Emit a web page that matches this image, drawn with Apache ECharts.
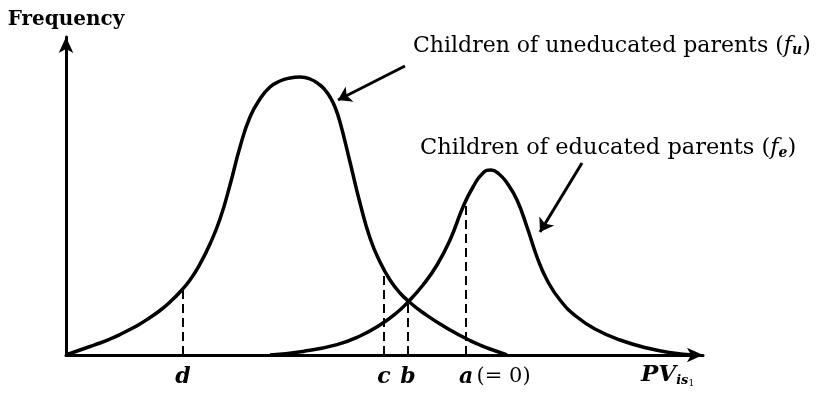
<!DOCTYPE html>
<html><head><meta charset="utf-8">
<script src="https://cdn.jsdelivr.net/npm/echarts@6/dist/echarts.min.js"></script>
<style>html,body{margin:0;padding:0;background:#fff}#c{width:832px;height:395px}</style>
</head><body><div id="c"></div>
<script>
// Curve of children of uneducated parents (f_u)
const uneducatedX = [-20, -19.3, -18.8, -18.3, -17.8, -17.3, -16.8, -16.3, -15.8, -15.3, -14.8, -14.3, -13.8, -13.3, -12.8, -12.3, -11.8, -11.3, -10.8, -10.3, -9.8, -9.3, -8.8, -8.3, -7.8, -7.3, -7.05, -6.8, -6.55, -6.3, -5.8, -5.3, -4.8, -4.3, -3.8, -3.3, -2.8, -2.3, -1.8, -1.3, -0.8, -0.3, 0.2, 0.7, 1.2, 1.7, 2.05];
const uneducatedY = [0, 0.5, 0.85, 1.2, 1.6, 2.05, 2.55, 3.1, 3.75, 4.45, 5.3, 6.3, 7.5, 9.1, 11.1, 13.6, 17.0, 20.8, 23.8, 25.6, 26.8, 27.4, 27.7, 27.8, 27.6, 27.0, 26.5, 25.8, 24.8, 23.3, 19.3, 15.2, 11.7, 9.3, 7.5, 6.2, 5.25, 4.45, 3.75, 3.1, 2.5, 1.95, 1.45, 1.0, 0.6, 0.25, 0];
// Curve of children of educated parents (f_e)
const educatedX = [-9.8, -8.15, -6.45, -5.3, -4.3, -3.45, -2.9, -2.15, -1.45, -0.8, -0.15, 0.35, 0.85, 1.25, 1.65, 2.05, 2.55, 3.05, 3.55, 4.05, 4.7, 5.55, 6.55, 7.7, 9.05, 10.35, 11.35];
const educatedY = [0, 0.36, 1.04, 1.9, 3.0, 4.25, 5.3, 7.0, 9.0, 11.5, 14.8, 16.8, 18.2, 18.5, 18.1, 17.2, 15.5, 12.8, 9.8, 7.5, 5.5, 3.8, 2.5, 1.5, 0.7, 0.2, 0];
// Cut-off points d, c, b, a
const cutLabels = ['d', 'c', 'b', 'a'];
const cutX = [-14.15, -4.1, -2.9, 0];
const cutTop = [6.7, 8.7, 5.35, 15.2];

const FONT = '"DejaVu Serif", "Liberation Serif", serif';
const chart = echarts.init(document.getElementById('c'));

const zip = (xs, ys) => xs.map((x, i) => [x, ys[i]]);

const cutMarkLines = cutX.map((x, i) => [{coord: [x, 0]}, {coord: [x, cutTop[i]]}]);

const labelData = cutX.map((x, i) => {
  const item = {value: [x, 0]};
  if (cutLabels[i] === 'a') {
    item.label = {
      formatter: '{i|a} {n|(= 0)}',
      align: 'left',
      offset: [-7, 0]
    };
  } else {
    item.label = {formatter: '{i|' + cutLabels[i] + '}'};
  }
  return item;
});

const option = {
  animation: false,
  backgroundColor: '#fff',
  grid: {left: 66, right: 129, top: 37, bottom: 40, containLabel: false},
  xAxis: {
    type: 'value', min: -20, max: 11.85,
    axisLine: {show: true, onZero: false, lineStyle: {color: '#000', width: 3}, symbol: ['none', 'arrow'], symbolSize: [11, 16]},
    axisTick: {show: false}, axisLabel: {show: false}, splitLine: {show: false}
  },
  yAxis: {
    type: 'value', min: 0, max: 31.8,
    name: 'Frequency', nameLocation: 'end', nameGap: 7,
    nameTextStyle: {fontFamily: FONT, fontSize: 20, fontWeight: 'bold', color: '#000', align: 'center'},
    axisLine: {show: true, onZero: false, lineStyle: {color: '#000', width: 3}, symbol: ['none', 'arrow'], symbolSize: [11, 16]},
    axisTick: {show: false}, axisLabel: {show: false}, splitLine: {show: false}
  },
  graphic: [
    {type: 'text', left: 413, top: 35, style: {
      text: '{n|Children of uneducated parents (}{i|f}{s|u}{n|)}',
      rich: {
        n: {fontFamily: FONT, fontSize: 22, fill: '#000'},
        i: {fontFamily: FONT, fontSize: 22, fontStyle: 'italic', fill: '#000'},
        s: {fontFamily: FONT, fontSize: 14, fontStyle: 'italic', fontWeight: 'bold', fill: '#000', padding: [9, 0, 0, 0]}
      }
    }},
    {type: 'text', left: 420, top: 137, style: {
      text: '{n|Children of educated parents (}{i|f}{s|e}{n|)}',
      rich: {
        n: {fontFamily: FONT, fontSize: 22.5, fill: '#000'},
        i: {fontFamily: FONT, fontSize: 22.5, fontStyle: 'italic', fill: '#000'},
        s: {fontFamily: FONT, fontSize: 14, fontStyle: 'italic', fontWeight: 'bold', fill: '#000', padding: [9, 0, 0, 0]}
      }
    }},
    {type: 'text', left: 641, top: 364, style: {
      text: '{p|PV}{s|is}{t|1}',
      rich: {
        p: {fontFamily: FONT, fontSize: 23, fontStyle: 'italic', fontWeight: 'bold', fill: '#000'},
        s: {fontFamily: FONT, fontSize: 13, fontStyle: 'italic', fontWeight: 'bold', fill: '#000', padding: [10, 0, 0, 0]},
        t: {fontFamily: FONT, fontSize: 9, fill: '#000', padding: [17, 0, 0, 0]}
      }
    }}
  ],
  series: [
    {
      name: 'uneducated', type: 'line', data: zip(uneducatedX, uneducatedY),
      smooth: 0.5, symbol: 'none', lineStyle: {color: '#000', width: 3.5}, z: 3
    },
    {
      name: 'educated', type: 'line', data: zip(educatedX, educatedY),
      smooth: 0.5, symbol: 'none', lineStyle: {color: '#000', width: 3.5}, z: 3,
      markLine: {
        silent: true, symbol: ['none', 'none'], label: {show: false},
        lineStyle: {color: '#000', width: 2, type: [9, 5]},
        data: cutMarkLines
      }
    },
    {
      name: 'cutLabels', type: 'scatter', symbolSize: 0, data: labelData,
      itemStyle: {opacity: 1, color: '#000'},
      label: {
        show: true, position: 'bottom', distance: 11, color: '#000', opacity: 1,
        rich: {
          i: {fontFamily: FONT, fontSize: 22, fontStyle: 'italic', fontWeight: 'bold', color: '#000'},
          n: {fontFamily: FONT, fontSize: 21, color: '#000'}
        }
      }
    },
    {
      name: 'arrows', type: 'lines', coordinateSystem: 'cartesian2d',
      symbol: ['none', 'arrow'], symbolSize: 13,
      lineStyle: {color: '#000', width: 3, opacity: 1},
      data: [
        {coords: [[-3.05, 28.9], [-6.4, 25.5]]},
        {coords: [[5.8, 19.2], [3.7, 12.3]]}
      ]
    }
  ]
};
chart.setOption(option);
</script>
</body></html>
